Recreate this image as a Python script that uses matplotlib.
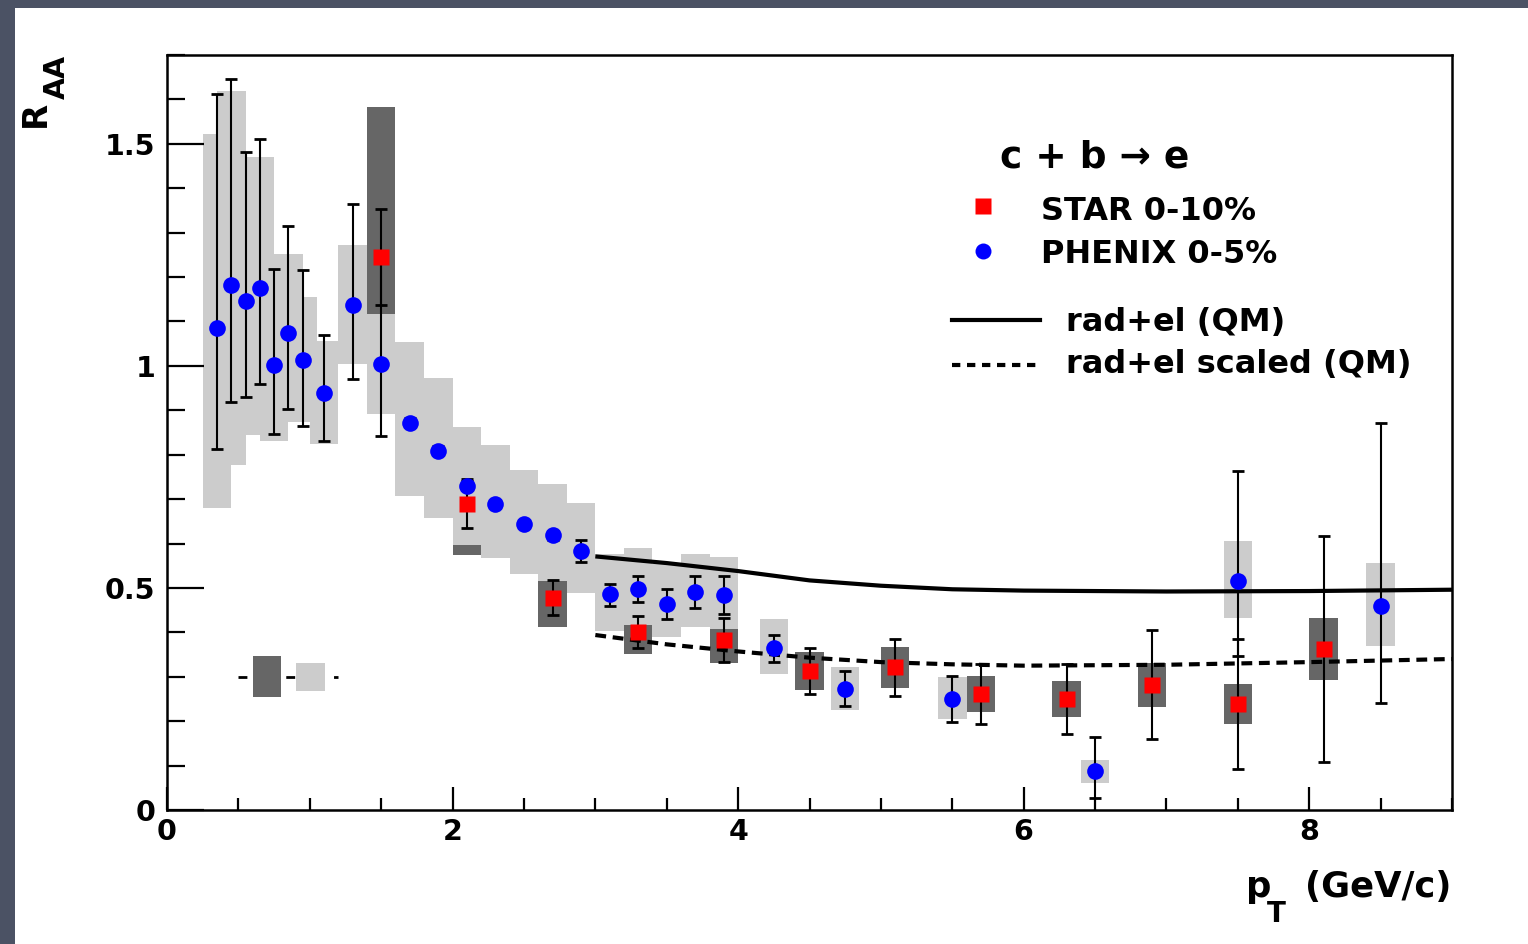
import matplotlib
matplotlib.use('Agg')
import matplotlib.pyplot as plt
from matplotlib.patches import Rectangle
from matplotlib.lines import Line2D
from matplotlib.ticker import MultipleLocator

W, H = 1528, 944
plt.rcParams['font.family'] = ['DejaVu Sans']
plt.rcParams['font.weight'] = 'bold'

# ---------------- data ----------------
phenix_pt = [0.35, 0.45, 0.55, 0.65, 0.75, 0.85, 0.95, 1.1, 1.3, 1.5, 1.7, 1.9,
             2.1, 2.3, 2.5, 2.7, 2.9, 3.1, 3.3, 3.5, 3.7, 3.9, 4.25, 4.75,
             5.5, 6.5, 7.5, 8.5]
phenix_raa = [1.086, 1.181, 1.145, 1.176, 1.001, 1.075, 1.014, 0.938, 1.136, 1.004,
              0.872, 0.809, 0.730, 0.689, 0.644, 0.619, 0.583, 0.486, 0.498, 0.464,
              0.491, 0.484, 0.365, 0.273, 0.250, 0.088, 0.516, 0.459]
phenix_stat_lo = [0.273, 0.262, 0.215, 0.217, 0.154, 0.172, 0.149, 0.107, 0.165, 0.161,
                  0.01, 0.01, 0.01, 0.01, 0.01, 0.01, 0.024, 0.026, 0.030, 0.033,
                  0.037, 0.043, 0.032, 0.039, 0.052, 0.061, 0.169, 0.217]
phenix_stat_hi = [0.527, 0.465, 0.337, 0.335, 0.217, 0.240, 0.202, 0.132, 0.229, 0.234,
                  0.01, 0.01, 0.01, 0.01, 0.01, 0.01, 0.024, 0.023, 0.030, 0.033,
                  0.037, 0.043, 0.029, 0.039, 0.052, 0.076, 0.248, 0.413]
phenix_sys_lo = [0.406, 0.404, 0.30, 0.30, 0.17, 0.175, 0.14, 0.115, 0.131, 0.113, 0.165, 0.151,
                 0.133, 0.121, 0.112, 0.103, 0.094, 0.083, 0.081, 0.074, 0.078, 0.076,
                 0.059, 0.048, 0.044, 0.027, 0.083, 0.090]
phenix_sys_hi = [0.437, 0.438, 0.30, 0.295, 0.17, 0.177, 0.142, 0.118, 0.136, 0.113, 0.182, 0.164,
                 0.133, 0.133, 0.122, 0.115, 0.109, 0.090, 0.092, 0.090, 0.086, 0.086,
                 0.065, 0.049, 0.050, 0.025, 0.090, 0.097]

star_pt = [1.5, 2.1, 2.7, 3.3, 3.9, 4.5, 5.1, 5.7, 6.3, 6.9, 7.5, 8.1]
star_raa = [1.246, 0.690, 0.478, 0.401, 0.383, 0.313, 0.321, 0.261, 0.250, 0.282, 0.239, 0.362]
star_stat = [0.108, 0.055, 0.040, 0.036, 0.050, 0.052, 0.064, 0.067, 0.078, 0.123, 0.146, 0.255]
star_sys = [0.337, 0.116, 0.066, 0.050, 0.052, 0.042, 0.046, 0.041, 0.041, 0.050, 0.045, 0.070]

theory_pt = [3.0, 3.5, 4.0, 4.5, 5.0, 5.5, 6.0, 7.0, 8.0, 9.0]
rad_el = [0.571, 0.556, 0.538, 0.517, 0.505, 0.497, 0.494, 0.492, 0.493, 0.496]
rad_el_scaled = [0.394, 0.373, 0.357, 0.343, 0.333, 0.328, 0.325, 0.327, 0.333, 0.340]

# global normalisation uncertainty boxes (STAR dark, PHENIX light)
norm_center = [0.70, 1.005]
norm_halfheight = [0.046, 0.031]
norm_line_x = [0.5, 1.2]
norm_y = 0.30

LIGHT = '#cccccc'
DARK = '#666666'

# ---------------- figure ----------------
fig = plt.figure(figsize=(W / 100, H / 100), dpi=100, facecolor='#4b5264')
fig.add_artist(Rectangle((15 / W, 0), 1 - 15 / W, (H - 8) / H, transform=fig.transFigure,
                         facecolor='white', edgecolor='none', zorder=-5))

ax = fig.add_axes([167 / W, (H - 810) / H, (1452 - 167) / W, (810 - 55) / H])
ax.set_xlim(0, 9)
ax.set_ylim(0, 1.7)

# systematic boxes: STAR dark first, PHENIX light on top
ax.bar(star_pt, [2 * s for s in star_sys], bottom=[y - s for y, s in zip(star_raa, star_sys)],
       width=0.2, color=DARK, linewidth=0, zorder=1)
ax.bar(phenix_pt, [lo + hi for lo, hi in zip(phenix_sys_lo, phenix_sys_hi)],
       bottom=[y - lo for y, lo in zip(phenix_raa, phenix_sys_lo)],
       width=0.2, color=LIGHT, linewidth=0, zorder=1.2)

# normalisation boxes
ax.plot(norm_line_x, [norm_y, norm_y], color='black', lw=2, dashes=(3.2, 5.4), zorder=1.1)
ax.bar(norm_center, [2 * h for h in norm_halfheight],
       bottom=[norm_y - h for h in norm_halfheight], width=0.2,
       color=[DARK, LIGHT], linewidth=0, zorder=1.3)

# theory curves
ax.plot(theory_pt, rad_el, color='black', lw=3, zorder=2, solid_capstyle='butt')
ax.plot(theory_pt, rad_el_scaled, color='black', lw=3, dashes=(2.6, 1.6), zorder=2)

# stat errors
ax.errorbar(phenix_pt, phenix_raa, yerr=[phenix_stat_lo, phenix_stat_hi], fmt='none',
            ecolor='black', elinewidth=1.5, capsize=4.5, capthick=2, zorder=3)
ax.errorbar(star_pt, star_raa, yerr=star_stat, fmt='none',
            ecolor='black', elinewidth=1.5, capsize=4.5, capthick=2, zorder=3)

# markers
ax.plot(phenix_pt, phenix_raa, 'o', color='#0000ff', ms=12, mec='none', zorder=4)
ax.plot(star_pt, star_raa, 's', color='#ff0000', ms=11.5, mec='none', zorder=4)

# axes styling
ax.set_xticks([0, 2, 4, 6, 8])
ax.set_xticklabels(['0', '2', '4', '6', '8'])
ax.xaxis.set_minor_locator(MultipleLocator(0.5))
ax.set_yticks([0, 0.5, 1, 1.5])
ax.set_yticklabels(['0', '0.5', '1', '1.5'])
ax.yaxis.set_minor_locator(MultipleLocator(0.1))
ax.tick_params(which='both', direction='in', top=False, right=False, color='black')
ax.tick_params(axis='y', which='major', length=26.6, width=1.6, pad=8.5, labelsize=20.5)
ax.tick_params(axis='y', which='minor', length=13, width=1.6)
ax.tick_params(axis='x', which='major', length=16.5, width=1.6, pad=5.5, labelsize=20.5)
ax.tick_params(axis='x', which='minor', length=8.6, width=1.6)
for sp in ax.spines.values():
    sp.set_linewidth(1.8)


def fx(px):
    return px / W


def fy(py):
    return 1 - py / H


# axis titles
fig.text(fx(35), fy(114), 'R', rotation=90, ha='center', va='center', fontsize=24.5)
fig.text(fx(57), fy(77), 'AA', rotation=90, ha='center', va='center', fontsize=20.5)
fig.text(fx(1246), fy(897), 'p', ha='left', va='baseline', fontsize=25.5)
fig.text(fx(1267), fy(900), 'T', ha='left', va='top', fontsize=20)
fig.text(fx(1451), fy(897), '(GeV/c)', ha='right', va='baseline', fontsize=25.5)

# legend
fig.text(fx(1000), fy(167), 'c + b \u2192 e', ha='left', va='baseline', fontsize=27)
fig.add_artist(Line2D([fx(983)], [fy(206)], marker='s', color='#ff0000', ms=11, mec='none',
                      transform=fig.transFigure))
fig.add_artist(Line2D([fx(983)], [fy(251)], marker='o', color='#0000ff', ms=11.5, mec='none',
                      transform=fig.transFigure))
fig.text(fx(1041), fy(220), 'STAR 0-10%', ha='left', va='baseline', fontsize=23)
fig.text(fx(1041), fy(263), 'PHENIX 0-5%', ha='left', va='baseline', fontsize=23)
fig.add_artist(Line2D([fx(952), fx(1040)], [fy(320), fy(320)], color='black', lw=3,
                      transform=fig.transFigure))
fig.add_artist(Line2D([fx(952), fx(1040)], [fy(365), fy(365)], color='black', lw=3,
                      dashes=(2.0, 1.6), transform=fig.transFigure))
fig.text(fx(1066), fy(331), 'rad+el (QM)', ha='left', va='baseline', fontsize=23)
fig.text(fx(1066), fy(373), 'rad+el scaled (QM)', ha='left', va='baseline', fontsize=23)

fig.savefig('out.png', dpi=100, facecolor=fig.get_facecolor())
